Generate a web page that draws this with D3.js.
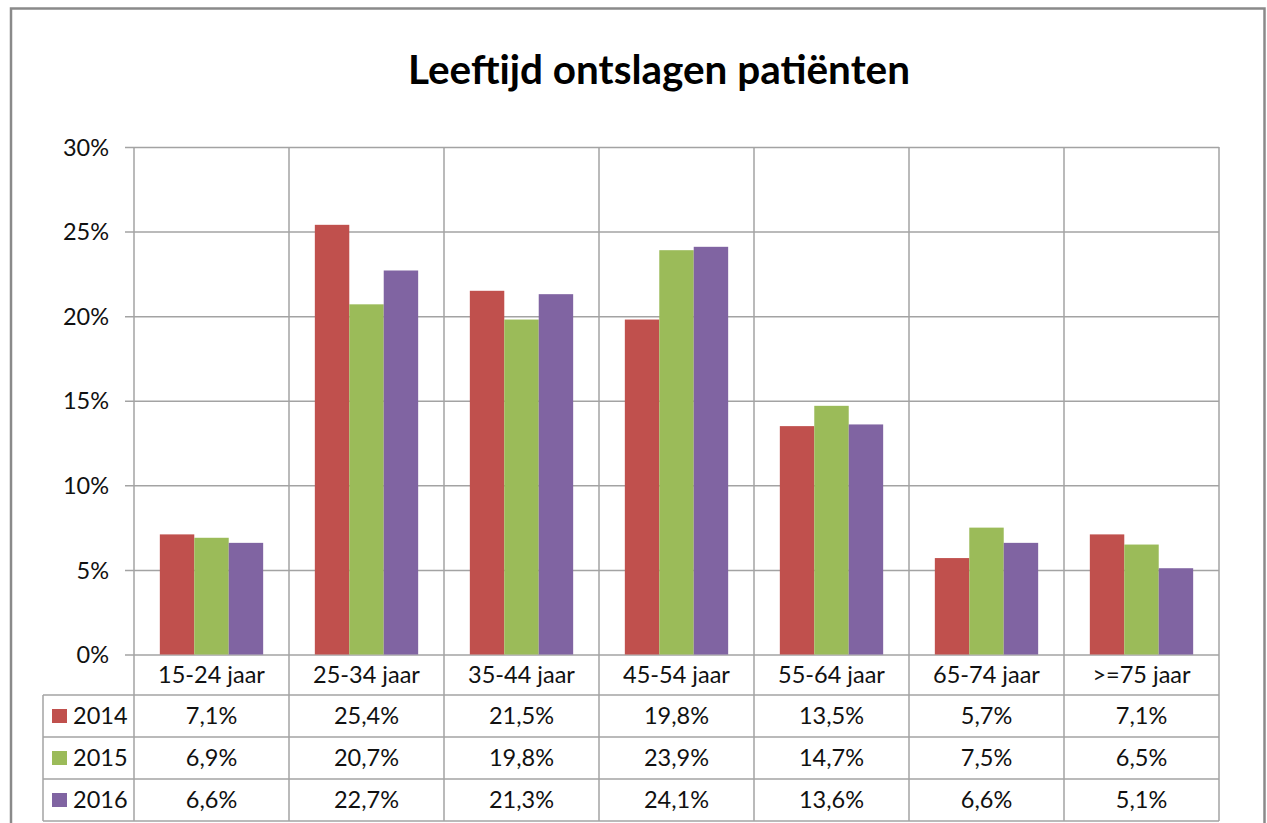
<!DOCTYPE html>
<html><head><meta charset="utf-8">
<script src="https://cdn.jsdelivr.net/npm/d3@7"></script>
<style>body{margin:0;background:#fff}svg{display:block}text{font-family:Lato,"Open Sans",sans-serif;fill:#111}</style>
</head><body><svg id="c" width="1267" height="823"></svg>
<script>
const title = "Leeftijd ontslagen patiënten";
const categories = ["15-24 jaar","25-34 jaar","35-44 jaar","45-54 jaar","55-64 jaar","65-74 jaar",">=75 jaar"];
const seriesNames = ["2014","2015","2016"];
const values2014 = [7.1,25.4,21.5,19.8,13.5,5.7,7.1];
const values2015 = [6.9,20.7,19.8,23.9,14.7,7.5,6.5];
const values2016 = [6.6,22.7,21.3,24.1,13.6,6.6,5.1];
const yTicks = [0,5,10,15,20,25,30];
const colors = ["#C0504D","#9BBB59","#8064A2"];

const series = [values2014, values2015, values2016];
const svg = d3.select("#c");
const L = 134, R = 1219, T = 147, B = 654.5;
const tableLeft = 43;
const rowsY = [B, 695, 737, 779, 821];
const gridColor = "#a3a3a3";

const x = d3.scaleBand().domain(categories).range([L, R]).paddingInner(0).paddingOuter(0);
const barW = x.bandwidth() / (3 + 1.5);
const xs = d3.scaleBand().domain(seriesNames).range([0, barW*3]);
const y = d3.scaleLinear().domain([0,30]).range([B, T]);

// outer border
svg.append("rect").attr("x",11).attr("y",8.5).attr("width",1253.5).attr("height",830)
  .attr("fill","none").attr("stroke","#8a8a8a").attr("stroke-width",2.5);

// title
const tt = svg.append("text").attr("x",659).attr("y",84).attr("text-anchor","middle")
  .style("font-weight","bold").style("font-size","42px").style("fill","#000").text(title);
const tw = tt.node().getComputedTextLength();
tt.style("font-size", (42*502/tw).toFixed(2)+"px");

// horizontal gridlines
const yAxis = d3.axisLeft(y).tickValues(yTicks).tickFormat(d=>d+"%").tickSize(-(R-L)).tickPadding(25);
const ga = svg.append("g").attr("transform",`translate(${L},0)`).call(yAxis);
ga.select(".domain").remove();
ga.selectAll(".tick line").attr("stroke",gridColor).attr("stroke-width",1.5).attr("x1",-9);
ga.selectAll(".tick text").style("font-size","23.5px").style("font-family","Lato").attr("fill","#111").attr("dy","0.35em");

// vertical lines
const vx = categories.map(c=>x(c)).concat([R]);
svg.append("g").selectAll("line").data(vx).join("line")
  .attr("x1",d=>d).attr("x2",d=>d).attr("y1",T).attr("y2",rowsY[4])
  .attr("stroke",gridColor).attr("stroke-width",1.5);

// table horizontal lines
svg.append("g").selectAll("line").data(rowsY.slice(1)).join("line")
  .attr("x1",tableLeft).attr("x2",R).attr("y1",d=>d).attr("y2",d=>d)
  .attr("stroke",gridColor).attr("stroke-width",1.5);
svg.append("line").attr("x1",tableLeft).attr("x2",tableLeft).attr("y1",rowsY[1]).attr("y2",rowsY[4])
  .attr("stroke",gridColor).attr("stroke-width",1.5);

// bars
series.forEach((vals,si)=>{
  svg.append("g").selectAll("rect").data(vals).join("rect")
    .attr("x",(d,i)=>x(categories[i]) + barW*0.75 + xs(seriesNames[si]))
    .attr("y",d=>y(d)).attr("width",xs.bandwidth()).attr("height",d=>B-y(d))
    .attr("fill",colors[si]);
});

// category labels
svg.append("g").selectAll("text").data(categories).join("text")
  .attr("x",d=>x(d)+x.bandwidth()/2).attr("y",(rowsY[0]+rowsY[1])/2).attr("dy","0.35em")
  .attr("text-anchor","middle").style("font-size","23.5px").text(d=>d);

// table rows
const fmt = v => v.toFixed(1).replace(".",",")+"%";
series.forEach((vals,si)=>{
  const cy = (rowsY[si+1]+rowsY[si+2])/2;
  svg.append("rect").attr("x",52).attr("y",cy-7).attr("width",15).attr("height",14).attr("fill",colors[si]);
  svg.append("text").attr("x",73).attr("y",cy).attr("dy","0.35em").style("font-size","23.5px").text(seriesNames[si]);
  svg.append("g").selectAll("text").data(vals).join("text")
    .attr("x",(d,i)=>x(categories[i])+x.bandwidth()/2).attr("y",cy).attr("dy","0.35em")
    .attr("text-anchor","middle").style("font-size","23.5px").text(fmt);
});
</script></body></html>
